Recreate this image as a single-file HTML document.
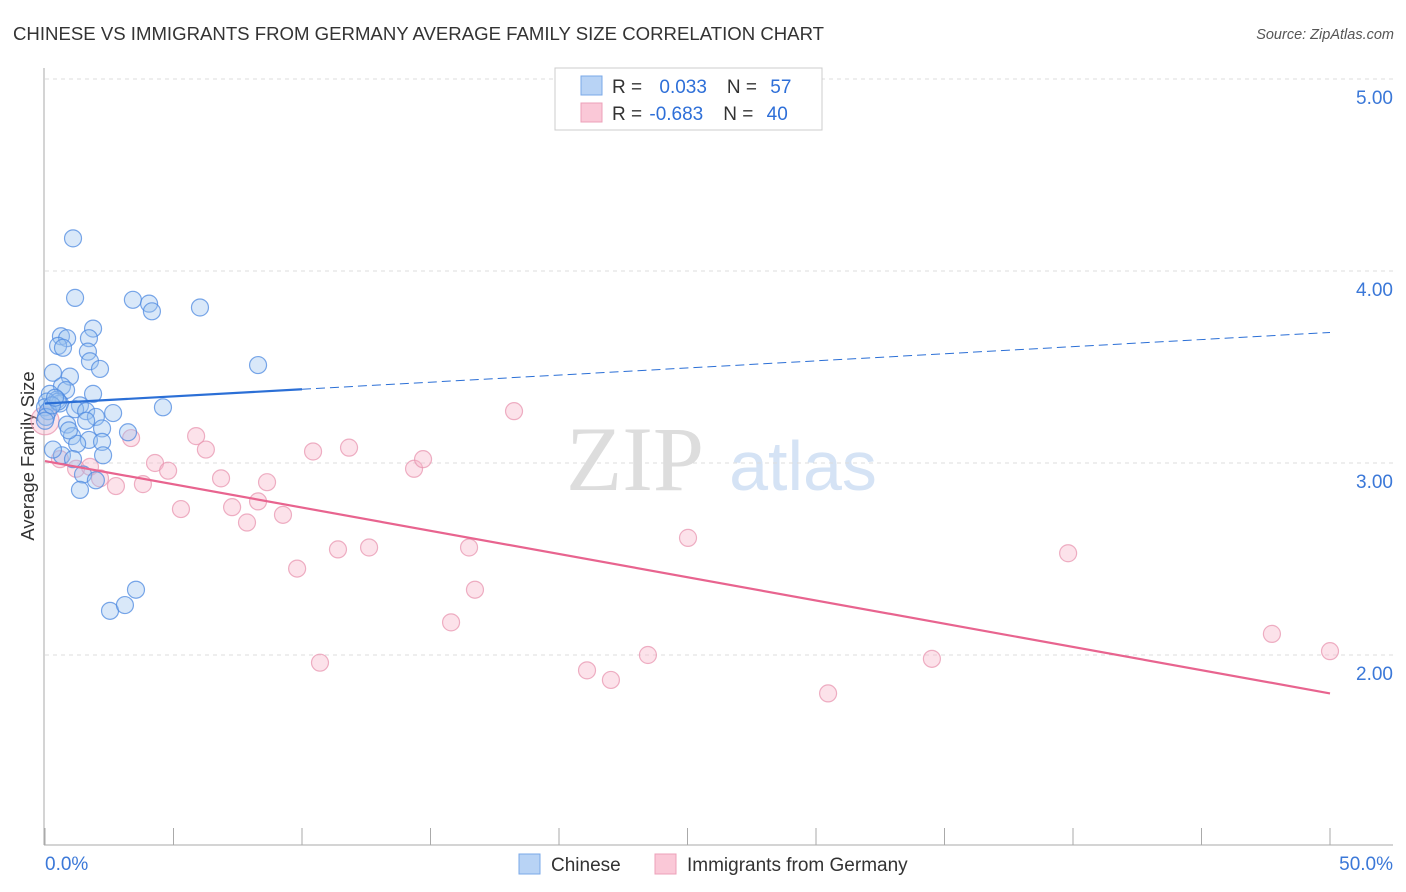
<!DOCTYPE html>
<html><head><meta charset="utf-8"><style>
body{margin:0;background:#fff;font-family:"Liberation Sans",sans-serif;}
svg{display:block}
</style></head><body>
<svg id="chart" width="1406" height="892">
<text x="13" y="40" font-size="18.6" fill="#333">CHINESE VS IMMIGRANTS FROM GERMANY AVERAGE FAMILY SIZE CORRELATION CHART</text>
<text x="1394" y="39" font-size="14.5" fill="#555" font-style="italic" text-anchor="end">Source: ZipAtlas.com</text>
<text x="34" y="456" font-size="18.5" fill="#333" text-anchor="middle" transform="rotate(-90 34 456)">Average Family Size</text>
<g><text x="635" y="490" font-size="92" fill="#ddd" font-family="Liberation Serif,serif" text-anchor="middle">ZIP</text><text x="803" y="490" font-size="70" fill="#d5e3f5" text-anchor="middle">atlas</text></g>
<g id="grid"></g><g id="axes"></g><g id="marks"></g>
<g>
<rect x="555" y="68" width="267" height="62" fill="#fff" stroke="#ccc"/>
<rect x="581" y="76" width="21" height="19" fill="#b8d3f5" stroke="#7aa8e8"/>
<rect x="581" y="103" width="21" height="19" fill="#fac8d7" stroke="#eca0b8"/>
<text x="612" y="93" font-size="19" fill="#333">R = <tspan fill="#2e6fd8" dx="12">0.033</tspan><tspan dx="20" fill="#333">N = </tspan><tspan fill="#2e6fd8" dx="8">57</tspan></text>
<text x="612" y="120" font-size="19" fill="#333">R = <tspan fill="#2e6fd8" dx="2">-0.683</tspan><tspan dx="20" fill="#333">N = </tspan><tspan fill="#2e6fd8" dx="8">40</tspan></text>
</g>
<g>
<rect x="519" y="854" width="21" height="20" fill="#b8d3f5" stroke="#7aa8e8"/>
<text x="551" y="871" font-size="19" fill="#333">Chinese</text>
<rect x="655" y="854" width="21" height="20" fill="#fac8d7" stroke="#eca0b8"/>
<text x="687" y="871" font-size="19" fill="#333">Immigrants from Germany</text>
</g>
</svg>
<script>
const blueX=[1.09,1.17,3.42,4.05,4.16,6.03,1.87,0.62,0.86,0.51,0.70,1.71,1.67,1.75,2.14,8.29,0.31,0.97,0.66,0.82,1.87,0.19,0.47,0.08,0.58,0.0,0.12,0.04,1.36,1.17,1.60,2.65,4.59,1.98,0.86,1.60,2.22,3.23,1.05,1.71,2.22,1.25,0.66,0.31,1.09,2.26,1.48,1.98,1.36,2.53,3.11,3.54,0.51,0.27,0.39,0.93,0.0];
const blueY=[4.17,3.86,3.85,3.83,3.79,3.81,3.70,3.66,3.65,3.61,3.60,3.65,3.58,3.53,3.49,3.51,3.47,3.45,3.40,3.38,3.36,3.36,3.33,3.32,3.31,3.29,3.27,3.24,3.30,3.28,3.27,3.26,3.29,3.24,3.20,3.22,3.18,3.16,3.14,3.12,3.11,3.10,3.04,3.07,3.02,3.04,2.94,2.91,2.86,2.23,2.26,2.34,3.32,3.30,3.34,3.17,3.22];
const pinkX=[0.0,0.58,1.21,1.75,2.14,2.76,3.35,3.81,4.28,4.79,5.29,5.88,6.26,6.85,7.28,7.86,8.29,8.64,9.26,9.81,10.43,10.70,11.40,11.83,12.61,14.36,14.71,15.80,16.50,16.73,18.25,21.09,22.02,23.46,25.02,30.47,34.51,39.81,47.74,50.0];
const pinkY=[3.22,3.02,2.97,2.98,2.92,2.88,3.13,2.89,3.00,2.96,2.76,3.14,3.07,2.92,2.77,2.69,2.80,2.90,2.73,2.45,3.06,1.96,2.55,3.08,2.56,2.97,3.02,2.17,2.56,2.34,3.27,1.92,1.87,2.00,2.61,1.80,1.98,2.53,2.11,2.02];
const yTicks=[5,4,3,2];
const yTickLabels=["5.00","4.00","3.00","2.00"];
const xTickLabels=["0.0%","50.0%"];
const blueTrend=[3.31,3.68];
const pinkTrend=[3.01,1.80];
const NS="http://www.w3.org/2000/svg";
const X=v=>45+v/50*1285, Y=v=>79+(5-v)*192;
function mk(t,a,p){const e=document.createElementNS(NS,t);for(const k in a)e.setAttribute(k,a[k]);p.appendChild(e);return e;}
const grid=document.getElementById('grid'),axes=document.getElementById('axes'),marks=document.getElementById('marks');
yTicks.forEach((t,i)=>{
 const l=mk('line',{x1:45,x2:1393,y1:Y(t),y2:Y(t),stroke:'#ddd','stroke-dasharray':'4 4'},grid);
 
 
 const tx=mk('text',{x:1393,y:Y(t)+25,'font-size':19,fill:'#3b78d8','text-anchor':'end'},axes);
 tx.textContent=yTickLabels[i];
 
 
});
const ya=mk('line',{x1:44,x2:44,y1:68,y2:845,stroke:'#aaa'},axes);


const xa=mk('line',{x1:44,x2:1393,y1:845,y2:845,stroke:'#aaa'},axes);


for(let i=0;i<=10;i++){const t=mk('line',{x1:X(i*5),x2:X(i*5),y1:828,y2:845,stroke:'#aaa'},axes);
 
 }
[[0,'start',45],[50,'end',1393]].forEach((d,i)=>{const t=mk('text',{x:d[2],y:870,'font-size':19,fill:'#3b78d8','text-anchor':d[1]},axes);t.textContent=xTickLabels[i];
 
 });
function pts(xs,ys,fill,stroke,name){xs.forEach((x,i)=>{const c=mk('circle',{cx:X(x),cy:Y(ys[i]),r:(name==='pink-point'&&i===0)?14:8.5,fill:fill,'fill-opacity':0.38,stroke:stroke,'stroke-opacity':0.75,'stroke-width':1.2},marks);
 
 });}
pts(pinkX,pinkY,'#f7b3c8','#e895b0','pink-point');
pts(blueX,blueY,'#9cc2f0','#4d8ae0','blue-point');
const bt=v=>blueTrend[0]+(blueTrend[1]-blueTrend[0])*v/50;
const b1=mk('line',{x1:X(0),y1:Y(bt(0)),x2:X(10),y2:Y(bt(10)),stroke:'#2b6fd6','stroke-width':2.2},marks);


const b2=mk('line',{x1:X(10),y1:Y(bt(10)),x2:X(50),y2:Y(bt(50)),stroke:'#2b6fd6','stroke-width':1,'stroke-dasharray':'9 5'},marks);


const p1=mk('line',{x1:X(0),y1:Y(pinkTrend[0]),x2:X(50),y2:Y(pinkTrend[1]),stroke:'#e8648f','stroke-width':2.2},marks);


</script>
</body></html>
